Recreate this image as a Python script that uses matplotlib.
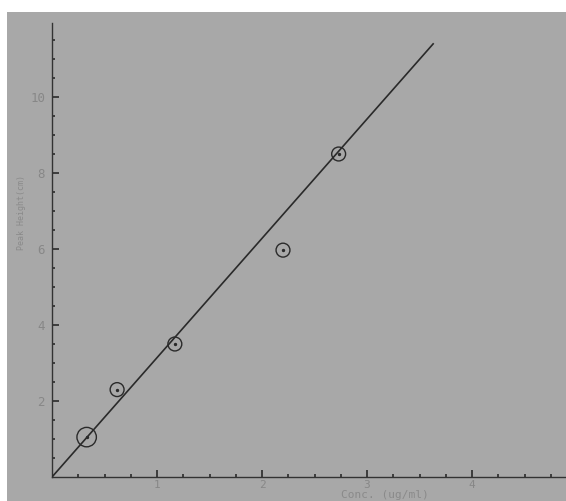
import matplotlib
matplotlib.use("Agg")
import matplotlib.pyplot as plt
from matplotlib.patches import Rectangle
import numpy as np

# Data
conc = [0.33, 0.62, 1.17, 2.20, 2.73]          # ug/ml
peak = [1.05, 2.30, 3.50, 5.97, 8.50]          # cm
fit_slope = 3.14
fit_x = [0.0, 3.63]
x_ticks = [1, 2, 3, 4]
y_ticks = [2, 4, 6, 8, 10]

W, H = 566, 501
fig = plt.figure(figsize=(W / 100, H / 100), dpi=100)
bg = "#a8a8a8"
fig.patch.set_facecolor(bg)
# scanned page margins
fig.patches.append(Rectangle((0, 1 - 12 / H), 1, 12 / H, transform=fig.transFigure,
                             facecolor="white", edgecolor="none", zorder=-1))
fig.patches.append(Rectangle((0, 0), 7 / W, 1, transform=fig.transFigure,
                             facecolor="white", edgecolor="none", zorder=-1))

x0, y0 = 52, 477
ytop = 23
ax = fig.add_axes([x0 / W, (H - y0) / H, (W - x0) / W, (y0 - ytop) / H])
ax.set_facecolor("none")
ax.set_xlim(0, (W - x0) / 105)
ax.set_ylim(0, (y0 - ytop) / 38)

for s in ["top", "right"]:
    ax.spines[s].set_visible(False)
for s in ["left", "bottom"]:
    ax.spines[s].set_color("#333333")
    ax.spines[s].set_linewidth(1.0)

ink = "#2a2a2a"
fx = np.array(fit_x)
ax.plot(fx, fit_slope * fx, color=ink, lw=1.2, zorder=3)

sizes = [14, 10, 10, 10, 10]
ax.scatter(conc, peak, s=[v ** 2 for v in sizes], facecolors="none",
           edgecolors=ink, linewidths=1.0, zorder=4)
ax.scatter(conc, peak, s=2, color=ink, zorder=5)

mono = "DejaVu Sans Mono"
ax.set_xticks(x_ticks)
ax.set_yticks(y_ticks)
ax.set_xticks(np.arange(0.25, 4.9, 0.25), minor=True)
ax.set_yticks(np.arange(0.5, 12, 0.5), minor=True)
ax.tick_params(which="major", direction="in", length=5, width=1.2, color=ink,
               labelsize=9, labelcolor="#878787")
ax.tick_params(which="minor", direction="in", length=2.5, width=1.2, color=ink)
ax.tick_params(axis="y", pad=5)
ax.tick_params(axis="x", pad=2, labelsize=8)
for lab in ax.get_xticklabels() + ax.get_yticklabels():
    lab.set_fontfamily(mono)

fig.text(385 / W, 1 - 500 / H, "Conc. (ug/ml)", fontsize=8, color="#8a8a8a",
         family=mono, ha="center", va="bottom")
fig.text(22 / W, 1 - 212 / H, "Peak Height(cm)", fontsize=6, color="#8a8a8a",
         family=mono, rotation=90, ha="center", va="center")

fig.savefig("out.png", dpi=100, facecolor=fig.get_facecolor())
